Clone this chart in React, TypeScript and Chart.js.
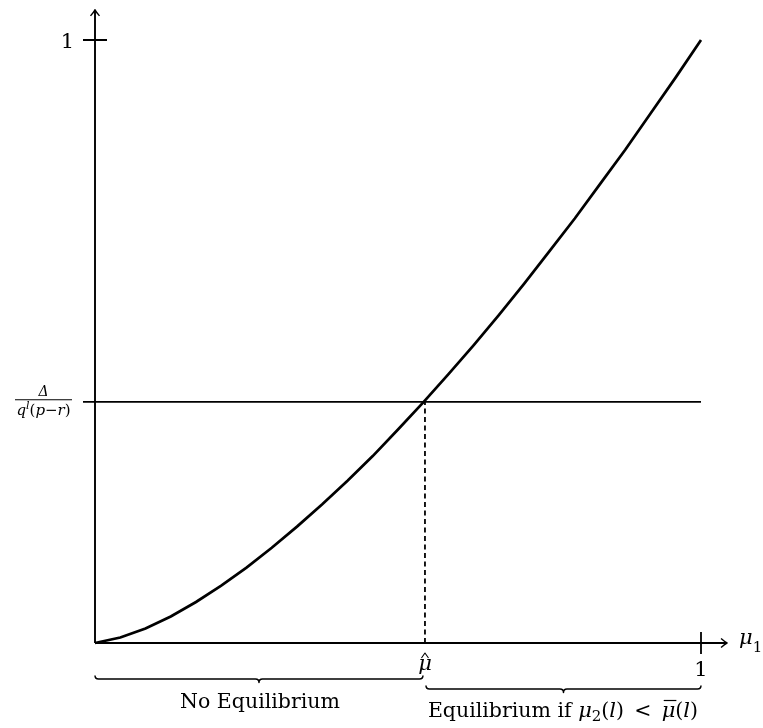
import React, { useEffect, useRef } from "react";
import { Chart, registerables } from "chart.js";
Chart.register(...registerables);

// Curve samples (mu_1 vs value)
const muSamples = [0, 0.0417, 0.0833, 0.125, 0.1667, 0.2083, 0.25, 0.2917, 0.3333, 0.375, 0.4167, 0.4583, 0.5, 0.5417, 0.5833, 0.625, 0.6667, 0.7083, 0.75, 0.7917, 0.8333, 0.875, 0.9167, 0.9583, 1];
const curveValues = [0, 0.009, 0.024, 0.044, 0.068, 0.095, 0.125, 0.158, 0.193, 0.23, 0.269, 0.31, 0.354, 0.399, 0.446, 0.494, 0.544, 0.596, 0.65, 0.704, 0.761, 0.818, 0.878, 0.938, 1];
const threshold = 0.4;
const muHat = 0.5445;
const xTicks = [1];
const yTicks = [1];

const SERIF = '"DejaVu Serif", serif';

type Part = { t: string; font: string; dy?: number; overline?: boolean };

function drawRich(ctx: CanvasRenderingContext2D, parts: Part[], x: number, baseline: number, align: "left" | "center" | "right") {
  let total = 0;
  const widths = parts.map((p) => {
    ctx.font = p.font;
    const w = ctx.measureText(p.t).width;
    total += w;
    return w;
  });
  let cx = align === "left" ? x : align === "center" ? x - total / 2 : x - total;
  parts.forEach((p, i) => {
    ctx.font = p.font;
    ctx.textAlign = "left";
    ctx.textBaseline = "alphabetic";
    ctx.fillText(p.t, cx, baseline + (p.dy || 0));
    if (p.overline) {
      ctx.beginPath();
      ctx.lineWidth = 1.2;
      ctx.moveTo(cx + 2, baseline - 16.5);
      ctx.lineTo(cx + widths[i] + 1, baseline - 16.5);
      ctx.stroke();
    }
    cx += widths[i];
  });
  return total;
}

function drawBrace(ctx: CanvasRenderingContext2D, x1: number, x2: number, y: number, amp: number) {
  const mid = (x1 + x2) / 2;
  ctx.beginPath();
  ctx.moveTo(x1, y - amp);
  ctx.quadraticCurveTo(x1, y, x1 + amp, y);
  ctx.lineTo(mid - amp, y);
  ctx.quadraticCurveTo(mid, y, mid, y + amp);
  ctx.quadraticCurveTo(mid, y, mid + amp, y);
  ctx.lineTo(x2 - amp, y);
  ctx.quadraticCurveTo(x2, y, x2, y - amp);
  ctx.stroke();
}

const decorPlugin = {
  id: "decor",
  afterDraw(chart: any) {
    const ctx: CanvasRenderingContext2D = chart.ctx;
    const xs = chart.scales.x;
    const ys = chart.scales.y;
    const x0 = xs.getPixelForValue(0);
    const y0 = ys.getPixelForValue(0);
    const xEnd = xs.getPixelForValue(1.043);
    const yEnd = ys.getPixelForValue(1.05);
    ctx.save();
    ctx.strokeStyle = "#000";
    ctx.fillStyle = "#000";
    ctx.lineCap = "butt";
    ctx.lineWidth = 1.9;
    // axes
    ctx.beginPath();
    ctx.moveTo(x0, y0);
    ctx.lineTo(x0, yEnd);
    ctx.moveTo(x0, y0);
    ctx.lineTo(xEnd, y0);
    ctx.stroke();
    // arrow heads
    ctx.lineWidth = 1.4;
    ctx.lineJoin = "round";
    ctx.beginPath();
    ctx.moveTo(x0 - 4.5, yEnd + 6);
    ctx.quadraticCurveTo(x0 - 1, yEnd + 2, x0, yEnd);
    ctx.quadraticCurveTo(x0 + 1, yEnd + 2, x0 + 4.5, yEnd + 6);
    ctx.moveTo(xEnd - 6, y0 - 4.5);
    ctx.quadraticCurveTo(xEnd - 2, y0 - 1, xEnd, y0);
    ctx.quadraticCurveTo(xEnd - 2, y0 + 1, xEnd - 6, y0 + 4.5);
    ctx.stroke();
    // ticks
    ctx.lineWidth = 1.8;
    ctx.beginPath();
    yTicks.forEach((v) => {
      const py = ys.getPixelForValue(v);
      ctx.moveTo(x0 - 12, py);
      ctx.lineTo(x0 + 12, py);
    });
    const pyT = ys.getPixelForValue(threshold);
    ctx.moveTo(x0 - 12, pyT);
    ctx.lineTo(x0, pyT);
    xTicks.forEach((v) => {
      const px = xs.getPixelForValue(v);
      ctx.moveTo(px, y0 - 11);
      ctx.lineTo(px, y0 + 11);
    });
    ctx.stroke();

    // tick labels
    ctx.font = `21px ${SERIF}`;
    ctx.textBaseline = "alphabetic";
    yTicks.forEach((v) => {
      const py = ys.getPixelForValue(v);
      ctx.textAlign = "right";
      ctx.fillText(String(v), x0 - 21, py + 8);
    });
    xTicks.forEach((v) => {
      const px = xs.getPixelForValue(v);
      ctx.textAlign = "center";
      ctx.fillText(String(v), px, y0 + 33);
    });

    // fraction label for threshold
    const fx = 43.5;
    ctx.lineWidth = 1.1;
    ctx.beginPath();
    ctx.moveTo(15, pyT - 2);
    ctx.lineTo(72, pyT - 2);
    ctx.stroke();
    drawRich(ctx, [{ t: "Δ", font: `italic 14px ${SERIF}` }], fx, pyT - 6, "center");
    drawRich(
      ctx,
      [
        { t: "q", font: `italic 15px ${SERIF}` },
        { t: "l", font: `italic 11px ${SERIF}`, dy: -6 },
        { t: "(", font: `15px ${SERIF}` },
        { t: "p", font: `italic 15px ${SERIF}` },
        { t: "−", font: `15px ${SERIF}` },
        { t: "r", font: `italic 15px ${SERIF}` },
        { t: ")", font: `15px ${SERIF}` },
      ],
      fx,
      pyT + 13,
      "center"
    );

    // mu hat label
    const pxHat = xs.getPixelForValue(muHat);
    drawRich(ctx, [{ t: "μ", font: `italic 21px ${SERIF}` }], pxHat, y0 + 27, "center");
    ctx.lineWidth = 1.1;
    ctx.beginPath();
    ctx.moveTo(pxHat - 3.5, y0 + 15);
    ctx.lineTo(pxHat, y0 + 10);
    ctx.lineTo(pxHat + 3.5, y0 + 15);
    ctx.stroke();

    // mu_1 axis label
    drawRich(
      ctx,
      [
        { t: "μ", font: `italic 21px ${SERIF}` },
        { t: "1", font: `15px ${SERIF}`, dy: 8 },
      ],
      xEnd + 12,
      y0 + 1,
      "left"
    );

    // braces
    ctx.lineWidth = 1.5;
    drawBrace(ctx, x0, pxHat - 2, y0 + 36, 3.5);
    const px1 = xs.getPixelForValue(1);
    drawBrace(ctx, pxHat + 1, px1, y0 + 46, 3.5);

    drawRich(ctx, [{ t: "No Equilibrium", font: `20.5px ${SERIF}` }], (x0 + pxHat) / 2, y0 + 65, "center");
    drawRich(
      ctx,
      [
        { t: "Equilibrium if ", font: `20.5px ${SERIF}` },
        { t: "μ", font: `italic 21px ${SERIF}` },
        { t: "2", font: `15px ${SERIF}`, dy: 4 },
        { t: "(", font: `20.5px ${SERIF}` },
        { t: "l", font: `italic 21px ${SERIF}` },
        { t: ")\u2002<\u2002", font: `20.5px ${SERIF}` },
        { t: "μ", font: `italic 21px ${SERIF}`, overline: true },
        { t: "(", font: `20.5px ${SERIF}` },
        { t: "l", font: `italic 21px ${SERIF}` },
        { t: ")", font: `20.5px ${SERIF}` },
      ],
      (pxHat + px1) / 2,
      y0 + 74,
      "center"
    );
    ctx.restore();
  },
};

export default function App() {
  const ref = useRef<HTMLCanvasElement | null>(null);
  useEffect(() => {
    if (!ref.current) return;
    const chart = new Chart(ref.current, {
      type: "scatter",
      data: {
        datasets: [
          {
            data: muSamples.map((x, i) => ({ x, y: curveValues[i] })),
            showLine: true,
            borderColor: "#000",
            borderWidth: 2.7,
            pointRadius: 0,
            tension: 0,
            clip: false as any,
          },
          {
            data: [
              { x: 0, y: threshold },
              { x: 1, y: threshold },
            ],
            showLine: true,
            borderColor: "#000",
            borderWidth: 1.8,
            pointRadius: 0,
            clip: false as any,
          },
          {
            data: [
              { x: muHat, y: 0 },
              { x: muHat, y: threshold },
            ],
            showLine: true,
            borderColor: "#000",
            borderWidth: 1.8,
            borderDash: [5, 3.5],
            pointRadius: 0,
            clip: false as any,
          },
        ],
      },
      options: {
        animation: false,
        responsive: false,
        layout: { padding: { left: 95, top: 40, right: 62, bottom: 85 } },
        plugins: { legend: { display: false }, tooltip: { enabled: false } },
        scales: {
          x: { type: "linear", min: 0, max: 1, display: false },
          y: { type: "linear", min: 0, max: 1, display: false },
        },
      },
      plugins: [decorPlugin],
    });
    return () => chart.destroy();
  }, []);
  return (
    <div style={{ position: "absolute", left: 0, top: 0, width: 763, height: 728, background: "#fff" }}>
      <canvas ref={ref} width={763} height={728} style={{ display: "block" }} />
    </div>
  );
}
